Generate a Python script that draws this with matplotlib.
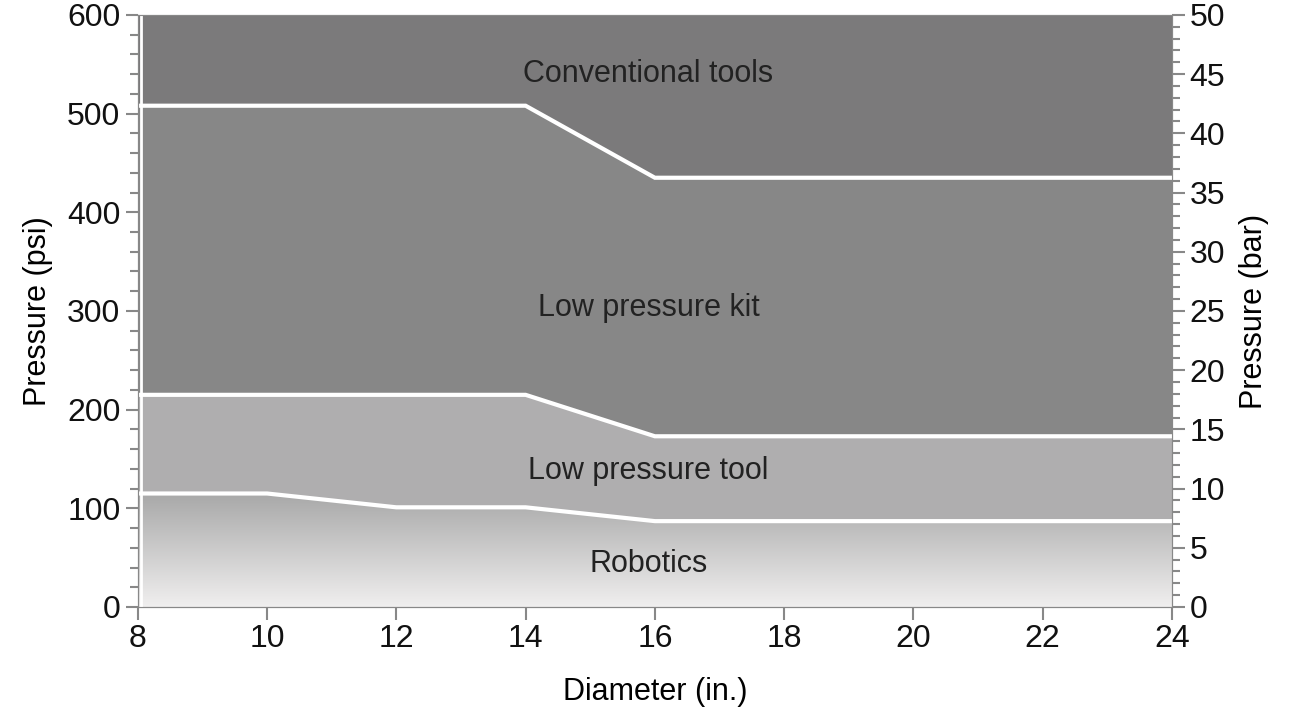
import matplotlib
matplotlib.use("Agg")
import matplotlib.pyplot as plt
import numpy as np
from matplotlib.patches import Polygon
from matplotlib.colors import LinearSegmentedColormap

plt.rcParams["font.family"] = "Liberation Sans"

diam = [8, 10, 12, 14, 16, 24]
robotics_top = [115, 115, 101, 101, 87, 87]
lp_tool_top = [215, 215, 215, 215, 173, 173]
lp_kit_top = [508, 508, 508, 508, 435, 435]
labels = ["Conventional tools", "Low pressure kit", "Low pressure tool", "Robotics"]
label_pos = [(15.9, 540), (15.9, 303), (15.9, 138), (15.9, 44)]

fig = plt.figure(figsize=(13, 7.11), dpi=100)
ax = fig.add_axes([0.106, 0.1463, 0.7955, 0.8327])
ax.set_xlim(8, 24)
ax.set_ylim(0, 600)

ax.fill_between(diam, lp_kit_top, 600, color="#7b7a7b", lw=0, zorder=1)
ax.fill_between(diam, lp_tool_top, lp_kit_top, color="#878787", lw=0, zorder=1)
ax.fill_between(diam, robotics_top, lp_tool_top, color="#afaeaf", lw=0, zorder=1)

cmap = LinearSegmentedColormap.from_list("g", ["#f0efef", "#a8a8a8"])
grad = np.linspace(0, 1, 256).reshape(-1, 1)
im = ax.imshow(grad, cmap=cmap, origin="lower", extent=[8, 24, 0, 115], aspect="auto", zorder=1)
poly = Polygon(list(zip(diam, robotics_top)) + [(24, 0), (8, 0)], closed=True, transform=ax.transData)
im.set_clip_path(poly)

for yv in (robotics_top, lp_tool_top, lp_kit_top):
    ax.plot(diam, yv, color="white", lw=3, zorder=3, solid_joinstyle="miter")
ax.plot([8.05, 8.05], [0, 600], color="white", lw=2, zorder=3)

for t, (x, y) in zip(labels, label_pos):
    ax.text(x, y, t, ha="center", va="center", fontsize=22, color="#222222", zorder=4)

gray = "#888888"
for s in ax.spines.values():
    s.set_color(gray)
ax.set_xticks(range(8, 25, 2))
ax.set_yticks(range(0, 601, 100))
ax.set_yticks(range(0, 601, 20), minor=True)
ax.tick_params(axis="both", which="both", direction="out", colors=gray, labelcolor="#111111",
               labelsize=23, length=9, width=1.5)
ax.tick_params(which="minor", length=6)
ax.set_xlabel("Diameter (in.)", fontsize=22, labelpad=16)
ax.set_ylabel("Pressure (psi)", fontsize=22, labelpad=10)

ax2 = ax.twinx()
ax2.set_ylim(0, 50)
ax2.set_yticks(range(0, 51, 5))
ax2.set_yticks(range(0, 51, 1), minor=True)
for s in ax2.spines.values():
    s.set_color(gray)
ax2.tick_params(axis="y", which="both", direction="out", colors=gray, labelcolor="#111111",
                labelsize=23, length=9, width=1.5)
ax2.tick_params(which="minor", length=6)
ax2.set_ylabel("Pressure (bar)", fontsize=22, labelpad=10)

fig.savefig("out.png", dpi=100)
